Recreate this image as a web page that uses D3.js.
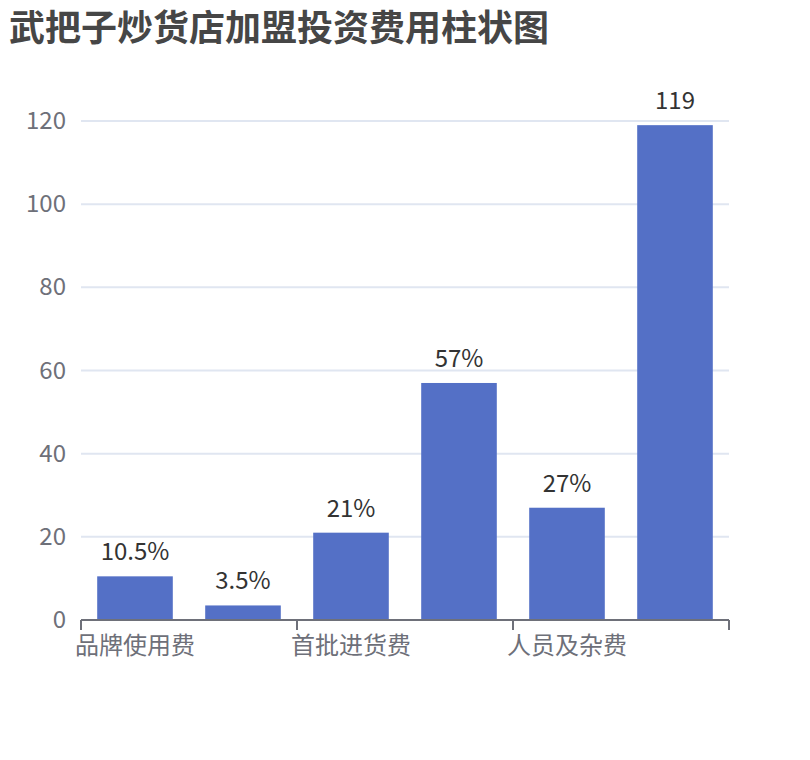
<!DOCTYPE html>
<html>
<head>
<meta charset="utf-8">
<script src="https://cdn.jsdelivr.net/npm/d3@7"></script>
<style>
  body { margin: 0; background: #fff; }
  text { font-family: "Noto Sans CJK SC", "Noto Sans", sans-serif; }
</style>
</head>
<body>
<div id="chart"></div>
<script>
// data
const categories = ["品牌使用费", "保证金", "首批进货费", "店面装修费", "人员及杂费", "合计"];
const values = [10.5, 3.5, 21, 57, 27, 119];
const valueLabels = ["10.5%", "3.5%", "21%", "57%", "27%", "119"];
const yTicks = [0, 20, 40, 60, 80, 100, 120];

const width = 810, height = 760;
const margin = {left: 81, right: 81, top: 121, bottom: 140};

const svg = d3.select("#chart").append("svg")
    .attr("width", width)
    .attr("height", height);

svg.append("text")
    .attr("x", 9)
    .attr("y", 41)
    .style("font-size", "36px")
    .style("font-weight", "bold")
    .style("fill", "#464646")
    .text("武把子炒货店加盟投资费用柱状图");

const x = d3.scaleBand()
    .domain(categories)
    .range([margin.left, width - margin.right])
    .padding(0);

const y = d3.scaleLinear()
    .domain([0, 120])
    .range([height - margin.bottom, margin.top]);

// grid lines
svg.append("g").selectAll("line")
    .data(yTicks.filter(d => d > 0))
    .enter().append("line")
    .attr("x1", margin.left)
    .attr("x2", width - margin.right)
    .attr("y1", d => y(d))
    .attr("y2", d => y(d))
    .style("stroke", "#E0E6F1")
    .style("stroke-width", 2);

// y labels
svg.append("g").selectAll("text")
    .data(yTicks)
    .enter().append("text")
    .attr("x", margin.left - 15)
    .attr("y", d => y(d) + 8)
    .style("text-anchor", "end")
    .style("font-size", "24px")
    .style("fill", "#6E7079")
    .text(d => d);

// bars
const bw = x.bandwidth() * 0.7;
svg.append("g").selectAll("rect")
    .data(values)
    .enter().append("rect")
    .attr("x", (d, i) => x(categories[i]) + (x.bandwidth() - bw) / 2)
    .attr("y", d => y(d))
    .attr("width", bw)
    .attr("height", d => y(0) - y(d))
    .style("fill", "#5470C6");

// value labels
svg.append("g").selectAll("text")
    .data(values)
    .enter().append("text")
    .attr("x", (d, i) => x(categories[i]) + x.bandwidth() / 2)
    .attr("y", d => y(d) - 16)
    .style("text-anchor", "middle")
    .style("font-size", "24px")
    .style("fill", "#333")
    .text((d, i) => valueLabels[i]);

// x axis line and ticks (every other category, as ECharts hides the overlapping ones)
svg.append("line")
    .attr("x1", margin.left)
    .attr("x2", width - margin.right)
    .attr("y1", y(0))
    .attr("y2", y(0))
    .style("stroke", "#6E7079")
    .style("stroke-width", 2);

const shown = categories.filter((c, i) => i % 2 === 0);
const tickPos = shown.map(c => x(c)).concat([width - margin.right]);

svg.append("g").selectAll("line")
    .data(tickPos)
    .enter().append("line")
    .attr("x1", d => d)
    .attr("x2", d => d)
    .attr("y1", y(0))
    .attr("y2", y(0) + 10)
    .style("stroke", "#6E7079")
    .style("stroke-width", 2);

svg.append("g").selectAll("text")
    .data(shown)
    .enter().append("text")
    .attr("x", d => x(d) + x.bandwidth() / 2)
    .attr("y", y(0) + 34)
    .style("text-anchor", "middle")
    .style("font-size", "24px")
    .style("fill", "#6E7079")
    .text(d => d);
</script>
</body>
</html>
